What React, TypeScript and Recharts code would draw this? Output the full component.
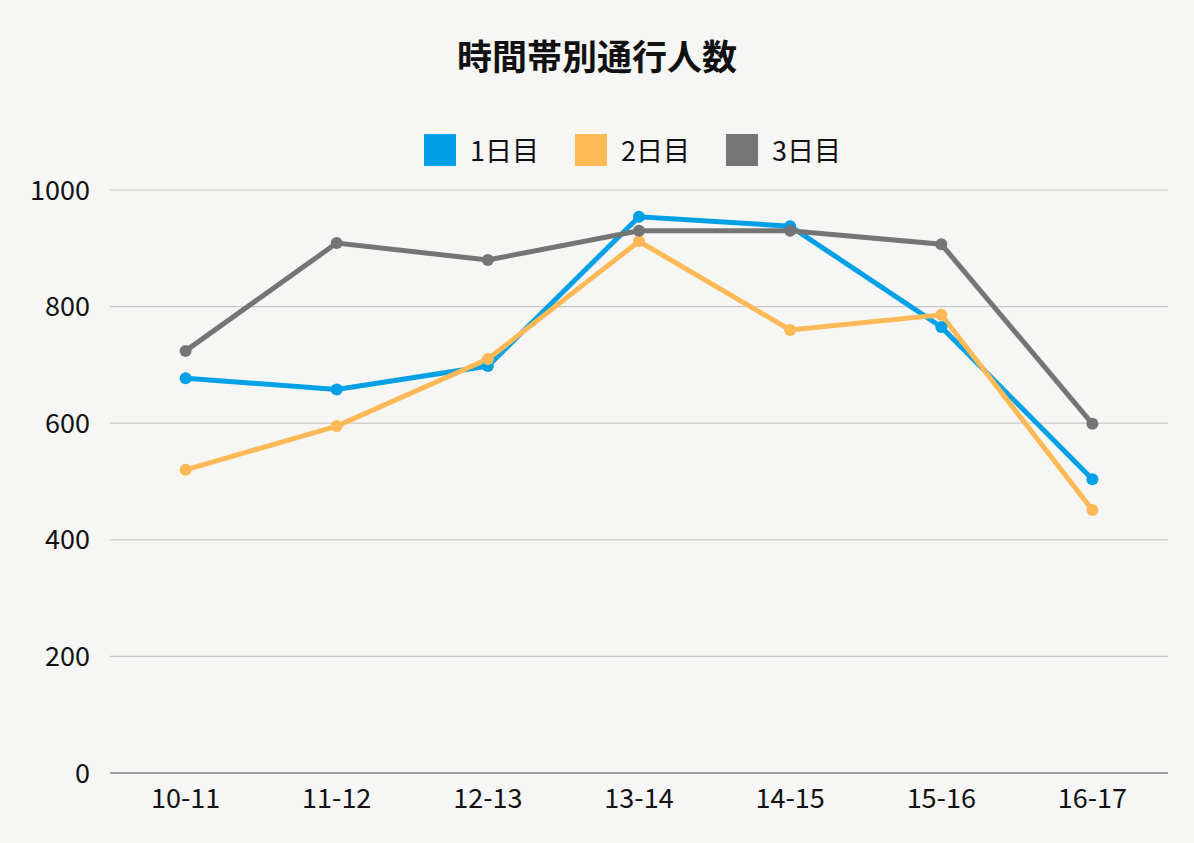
import React from 'react';
import { LineChart, Line, XAxis, YAxis, CartesianGrid } from 'recharts';

// 時間帯 (x categories)
const hours = ['10-11', '11-12', '12-13', '13-14', '14-15', '15-16', '16-17'];

// 通行人数 per day
const day1 = [677, 658, 698, 954, 938, 765, 504];
const day2 = [520, 595, 710, 912, 760, 786, 451];
const day3 = [724, 909, 880, 930, 930, 907, 599];

const yTicks = [0, 200, 400, 600, 800, 1000];

const seriesInfo = [
  { key: 'day1', name: '1日目', color: '#00A0E6' },
  { key: 'day2', name: '2日目', color: '#FFBA57' },
  { key: 'day3', name: '3日目', color: '#757575' },
];

const data = hours.map((h, i) => ({ hour: h, day1: day1[i], day2: day2[i], day3: day3[i] }));

const FONT = '"Noto Sans CJK JP", "Noto Sans", sans-serif';

function LegendBox() {
  return (
    <div style={{ position: 'absolute', top: 134, left: 424, display: 'flex', alignItems: 'center', fontFamily: FONT }}>
      {seriesInfo.map((s, i) => (
        <div key={s.key} style={{ display: 'flex', alignItems: 'center', marginLeft: i === 0 ? 0 : 36 }}>
          <span style={{ width: 32, height: 32, background: s.color, display: 'inline-block', marginRight: 14 }} />
          <span style={{ fontSize: 27, color: '#111', lineHeight: '32px' }}>{s.name}</span>
        </div>
      ))}
    </div>
  );
}

export default function App() {
  return (
    <div style={{ position: 'absolute', left: 0, top: 0, width: 1194, height: 843, background: '#F6F6F4', fontFamily: FONT }}>
      <div style={{ position: 'absolute', top: 32, left: 0, width: 1194, textAlign: 'center', fontSize: 35, fontWeight: 700, color: '#111', lineHeight: '46px' }}>
        時間帯別通行人数
      </div>
      <LegendBox />
      <LineChart width={1194} height={843} data={data} margin={{ top: 190, right: 26, left: 20, bottom: 30 }}>
        <CartesianGrid vertical={false} stroke="#C8C8C8" strokeWidth={1.2} />
        <XAxis
          dataKey="hour"
          scale="band"
          height={40}
          tickSize={0}
          tickMargin={16}
          axisLine={{ stroke: '#8A8A8A', strokeWidth: 1.5 }}
          tick={{ fill: '#111', fontSize: 27, fontFamily: FONT }}
        />
        <YAxis
          width={90}
          domain={[0, 1000]}
          ticks={yTicks}
          axisLine={false}
          tickLine={false}
          tickSize={0}
          tickMargin={20}
          tick={{ fill: '#111', fontSize: 27, fontFamily: FONT }}
        />
        {seriesInfo.map((s) => (
          <Line
            key={s.key}
            type="linear"
            dataKey={s.key}
            name={s.name}
            stroke={s.color}
            strokeWidth={5}
            dot={{ r: 6, fill: s.color, stroke: s.color, strokeWidth: 0 }}
            activeDot={false}
            isAnimationActive={false}
          />
        ))}
      </LineChart>
    </div>
  );
}
